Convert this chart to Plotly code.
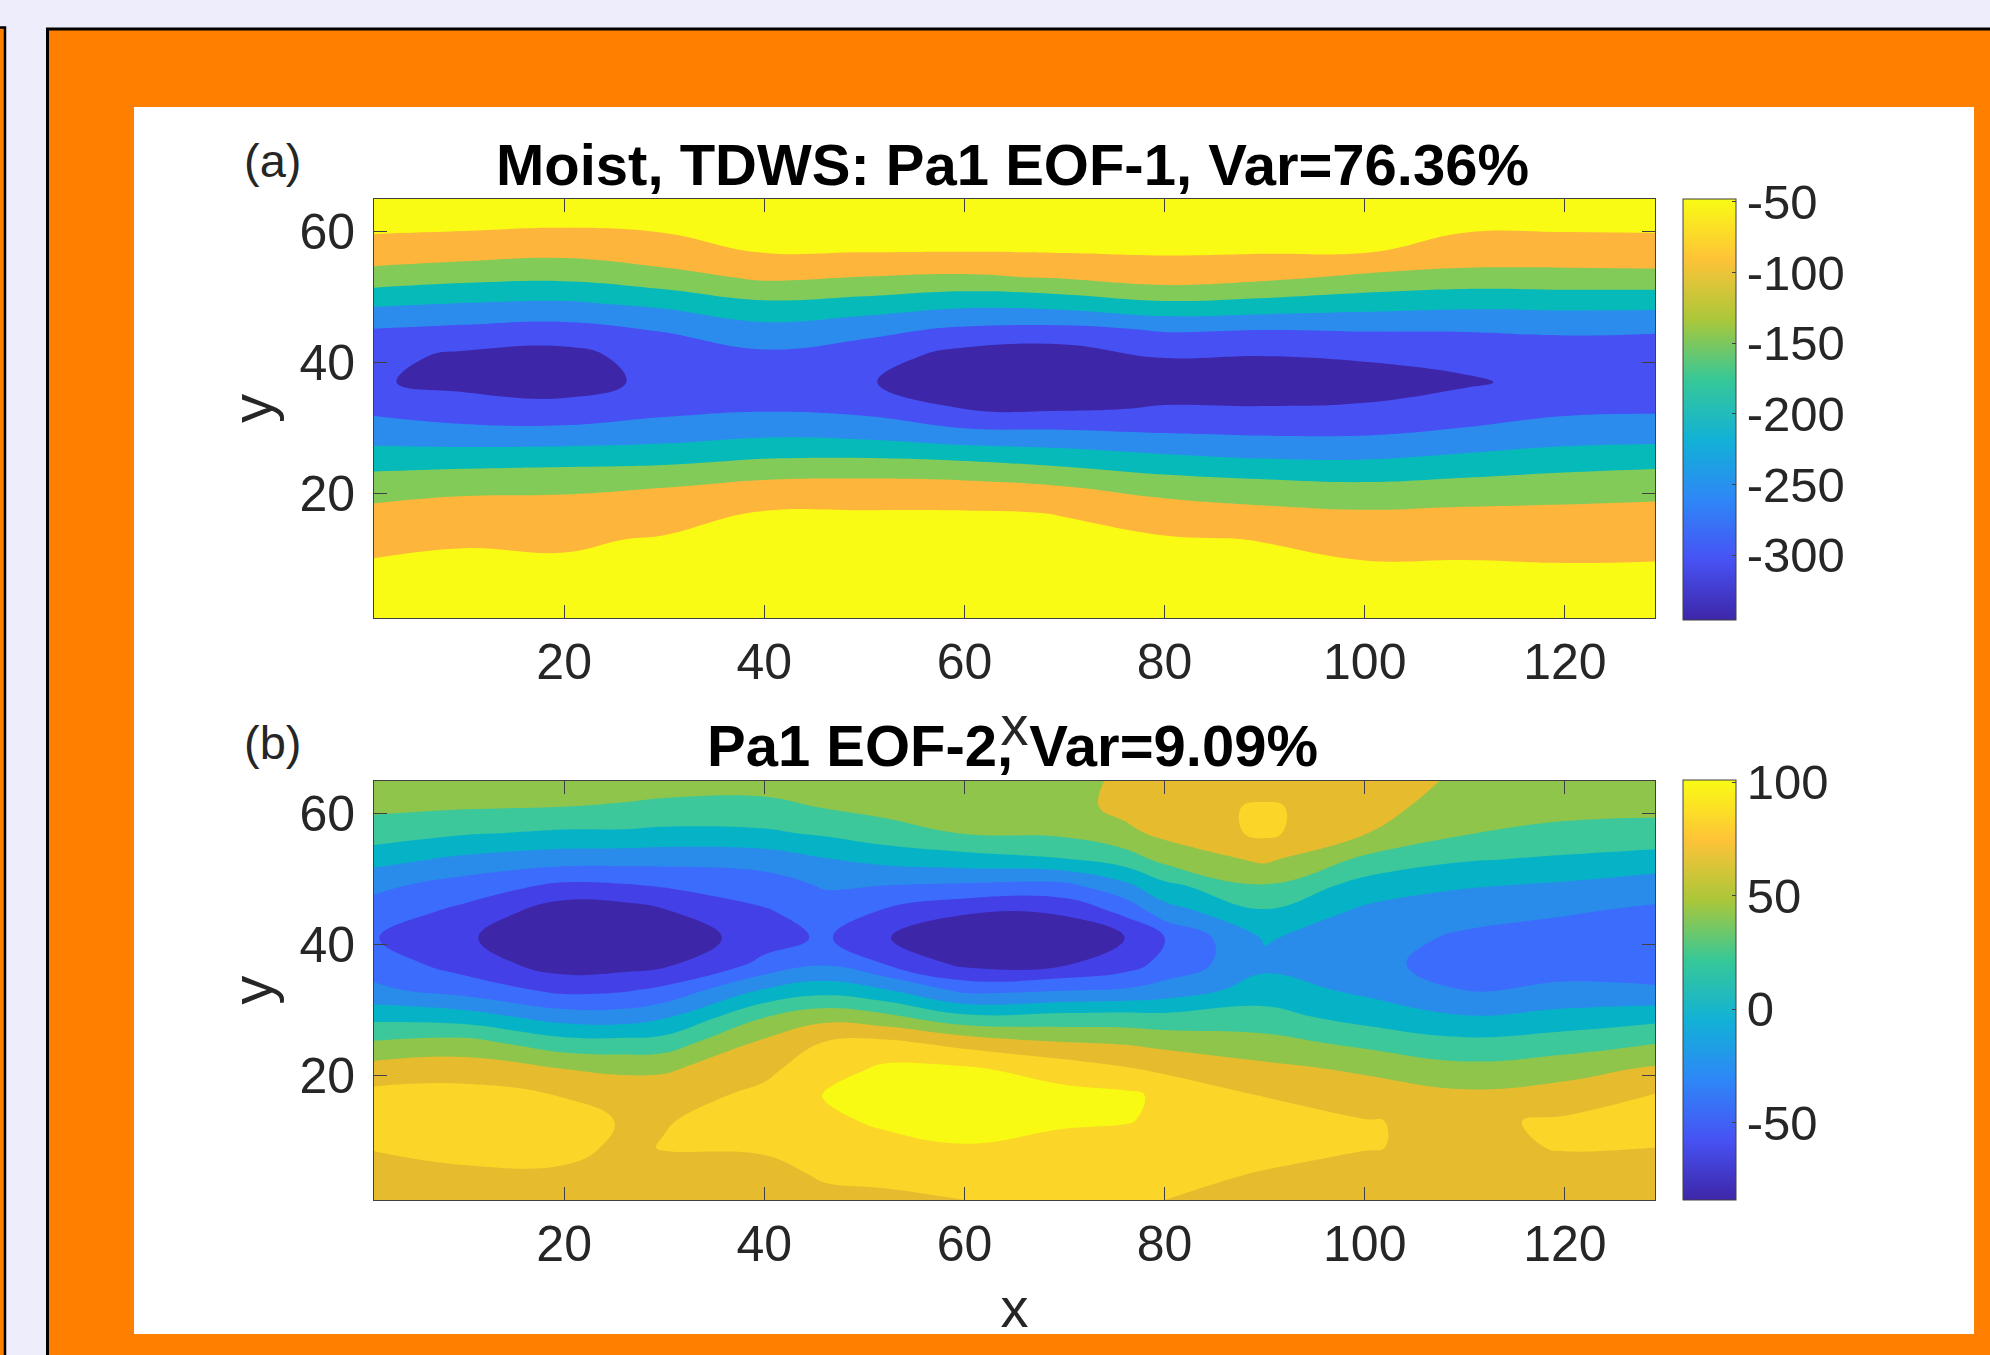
import numpy as np
import plotly.graph_objects as go

W, H = 1990, 1355
FONT = "Liberation Sans"

y_rows = [1, 5, 9, 13, 17, 21, 25, 29, 33, 37, 41, 45, 49, 53, 57, 61, 65]

xa_cols = [1, 10, 20, 30, 40, 50, 60, 70, 80, 90, 100, 110, 120, 129]
za_by_col = [
    [-30,-35,-45,-63,-87,-121,-170,-222,-261,-296,-285,-253,-193,-123,-70,-40,-35],
    [-30,-35,-44,-53,-79,-111,-167,-229,-280,-312,-310,-262,-202,-136,-78,-42,-35],
    [-30,-36,-44,-56,-80,-108,-163,-229,-288,-318,-318,-269,-207,-141,-86,-46,-38],
    [-28,-34,-42,-46,-71,-101,-159,-221,-264,-289,-275,-247,-189,-119,-69,-42,-36],
    [-28,-32,-36,-42,-46,-83,-145,-207,-256,-282,-261,-218,-159,-92,-47,-40,-35],
    [-28,-32,-36,-42,-46,-80,-142,-213,-264,-296,-275,-237,-169,-102,-48,-40,-35],
    [-28,-32,-36,-42,-46,-83,-150,-233,-301,-327,-320,-259,-188,-108,-49,-42,-36],
    [-28,-33,-38,-44,-51,-98,-165,-237,-306,-332,-328,-265,-180,-96,-47,-40,-35],
    [-30,-36,-41,-46,-73,-120,-183,-247,-297,-320,-297,-246,-159,-77,-45,-39,-34],
    [-30,-36,-43,-51,-87,-131,-195,-252,-298,-320,-300,-250,-167,-90,-46,-40,-35],
    [-30,-38,-46,-66,-94,-139,-197,-252,-295,-318,-295,-247,-179,-110,-47,-40,-35],
    [-30,-38,-46,-65,-90,-131,-184,-239,-278,-306,-286,-247,-187,-121,-65,-44,-37],
    [-32,-40,-48,-68,-89,-122,-172,-222,-261,-285,-272,-244,-185,-120,-67,-44,-37],
    [-32,-40,-47,-66,-87,-116,-165,-219,-258,-278,-268,-247,-185,-119,-64,-44,-37],
]

xb_cols = [1, 10, 20, 26, 30, 40, 46, 52, 60, 70, 76, 80, 90, 100, 110, 120, 129]
zb_by_col = [
    [68,74,81,90,86,68,42,14,-16,-29,-39,-29,-15,7,31,44,54],
    [68,77,86,93,87,71,47,9,-28,-49,-56,-45,-29,-4,22,42,52],
    [66,77,86,90,79,60,28,-10,-45,-70,-84,-72,-44,-11,17,40,52],
    [68,72,76,78,73,56,27,-11,-42,-68,-82,-70,-42,-12,17,38,50],
    [68,73,81,79,73,57,29,-3,-35,-64,-75,-62,-38,-13,15,36,48],
    [66,75,82,88,84,76,64,39,2,-35,-49,-42,-30,-11,17,35,48],
    [76,82,88,96,101,90,81,53,12,-22,-37,-31,-18,-1,23,41,50],
    [76,85,94,103,107,104,85,45,2,-40,-58,-42,-20,6,32,46,53],
    [80,90,99,106,110,103,73,24,-25,-65,-82,-57,-23,12,41,48,52],
    [86,90,95,102,106,91,61,26,-21,-62,-80,-56,-25,19,44,52,52],
    [82,87,92,101,104,82,58,27,-18,-50,-60,-35,-5,30,55,66,64],
    [80,85,90,97,96,76,54,25,-12,-33,-40,-9,15,46,65,70,72],
    [74,79,86,90,79,65,47,27,9,-5,2,18,39,64,84,83,66],
    [68,73,81,81,70,57,35,12,-4,-15,-12,-4,12,36,61,68,72],
    [68,71,76,76,64,46,25,1,-20,-27,-23,-13,2,22,41,50,56],
    [68,74,81,83,69,52,30,7,-16,-28,-29,-18,-3,17,35,46,52],
    [66,72,80,86,81,63,39,13,-18,-28,-33,-24,-10,12,33,45,52],
]

levels_a = [-300, 50, -50]          # start, step, end
levels_b = [-60, 20, 100]
cbar_range_a = [-346, -48]
cbar_range_b = [-84, 101]
ticks_a = [-300, -250, -200, -150, -100, -50]
ticklabels_a = ["-300", "-250", "-200", "-150", "-100", "-50"]
ticks_b = [-50, 0, 50, 100]
ticklabels_b = ["-50", "0", "50", "100"]
x_ticks = [20, 40, 60, 80, 100, 120]
y_ticks = [20, 40, 60]

title_a = "Moist, TDWS: Pa1 EOF-1, Var=76.36%"
title_b = "Pa1 EOF-2, Var=9.09%"

bands_a = ["#3E26A8", "#4650F3", "#2B8CEE", "#07BABA", "#82CB58", "#FDB53C", "#F9FB15"]
bands_b = ["#3E26A8", "#4440E8", "#3C6CFC", "#2A8CEA", "#06B3C6", "#3CC89A", "#8FC54A",
           "#E6BC2E", "#FBD527", "#F8FA14"]
parula = ["#3E26A8", "#4752F4", "#2E87F7", "#12B1D6", "#37C897", "#ABC739", "#FEC338", "#F9FB14"]


def ramp(colors):
    n = len(colors) - 1
    return [[i / n, c] for i, c in enumerate(colors)]


def px(v):
    return v / W


def py(v):
    return 1 - v / H


fig = go.Figure()

panels = [
    ("x", "y", xa_cols, za_by_col, levels_a, bands_a, cbar_range_a, ticks_a, ticklabels_a, 199, 620),
    ("x2", "y2", xb_cols, zb_by_col, levels_b, bands_b, cbar_range_b, ticks_b, ticklabels_b, 780, 1200),
]
for xa, ya, xs, zc, lv, bands, cr, tv, tt, top, bot in panels:
    fig.add_trace(go.Contour(
        x=xs, y=y_rows, z=np.array(zc).T.tolist(), xaxis=xa, yaxis=ya,
        contours=dict(start=lv[0], size=lv[1], end=lv[2], coloring="fill", showlines=False),
        colorscale=ramp(bands), line=dict(width=0, smoothing=1.2),
        showscale=False, hoverinfo="skip",
    ))
    fig.add_trace(go.Scatter(
        x=[None], y=[None], xaxis=xa, yaxis=ya, mode="markers", showlegend=False,
        marker=dict(
            color=[cr[0]], cmin=cr[0], cmax=cr[1], colorscale=ramp(parula), showscale=True,
            colorbar=dict(
                x=px(1682.5), xanchor="left", xpad=0, xref="paper",
                y=py(top), yanchor="top", ypad=0, yref="paper",
                thicknessmode="pixels", thickness=53, lenmode="pixels", len=bot - top,
                outlinecolor="#404040", outlinewidth=1,
                tickmode="array", tickvals=tv, ticktext=tt,
                ticks="inside", ticklen=4, tickwidth=1, tickcolor="#404040",
                tickfont=dict(family=FONT, size=49, color="#262626"),
            ),
        ),
    ))

axis_common = dict(
    showline=True, linecolor="#404040", linewidth=1, mirror="ticks", ticks="inside",
    ticklen=13, tickwidth=1, tickcolor="#404040", showgrid=False, zeroline=False,
    tickfont=dict(family=FONT, size=50, color="#262626"),
)
for xname, yname, top, bot in [("xaxis", "yaxis", 199, 618), ("xaxis2", "yaxis2", 780.5, 1200)]:
    fig.update_layout({
        xname: dict(axis_common, domain=[px(374), px(1655)], range=[1, 129], tickvals=x_ticks,
                    ticklabelstandoff=0,
                    title=dict(text="x", standoff=16, font=dict(family=FONT, size=56, color="#262626")),
                    anchor=yname.replace("axis", "")),
        yname: dict(axis_common, domain=[py(bot), py(top)], range=[1, 65], tickvals=y_ticks,
                    ticklabelstandoff=8,
                    title=dict(text="y", standoff=8, font=dict(family=FONT, size=58, color="#262626")),
                    anchor=xname.replace("axis", "")),
    })


def note(text, cx, cy, size, bold=False, color="#000000"):
    fig.add_annotation(
        text=f"<b>{text}</b>" if bold else text, x=px(cx), y=py(cy), xref="paper", yref="paper",
        xanchor="center", yanchor="middle", showarrow=False,
        font=dict(family=FONT, size=size, color=color),
    )


note(title_a, 1012, 164, 58, bold=True)
note(title_b, 1012, 745, 58, bold=True)
note("(a)", 272, 161, 47, color="#262626")
note("(b)", 272, 742, 47, color="#262626")

shapes = [
    dict(x0=-10, x1=5, y0=27.5, y1=H + 10, fillcolor="#FF8000", line=dict(color="#000000", width=2.5)),
    dict(x0=47.5, x1=W + 10, y0=29, y1=H + 10, fillcolor="#FF8000", line=dict(color="#000000", width=3)),
    dict(x0=134, x1=1974, y0=107, y1=1334, fillcolor="#FFFFFF", line=dict(width=0)),
]
fig.update_layout(
    width=W, height=H, margin=dict(l=0, r=0, t=0, b=0), autosize=False,
    paper_bgcolor="#EDEDFB", plot_bgcolor="#FFFFFF", showlegend=False,
    shapes=[dict(s, type="rect", xref="paper", yref="paper", layer="below",
                 x0=px(s["x0"]), x1=px(s["x1"]), y0=py(s["y0"]), y1=py(s["y1"])) for s in shapes],
)

fig.write_html("out.html", config={"displayModeBar": False}, post_script=(
    "document.body.style.margin='0';document.body.style.overflow='hidden';"
    "document.body.style.background='#EDEDFB';"
))
